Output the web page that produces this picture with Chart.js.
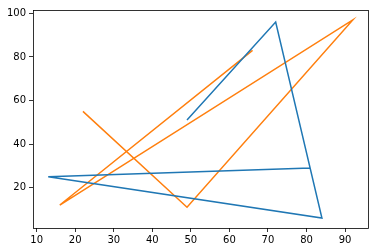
<!DOCTYPE html>
<html>
<head>
<meta charset="utf-8">
<script src="https://cdn.jsdelivr.net/npm/chart.js@4/dist/chart.umd.min.js"></script>
<style>
  html, body { margin: 0; padding: 0; background: #fff; }
  #wrap { width: 378px; height: 252px; }
</style>
</head>
<body>
<div id="wrap"><canvas id="canvass" width="378" height="252"></canvas></div>
<script>
// series (points in drawing order)
var blueX = [49, 72, 84, 13, 81];
var blueY = [51, 96, 6, 25, 29];
var orangeX = [22, 49, 92, 16, 66];
var orangeY = [55, 11, 97, 12, 83];

var xTicks = [10, 20, 30, 40, 50, 60, 70, 80, 90];
var yTicks = [20, 40, 60, 80, 100];

function toPoints(xs, ys) {
    var pts = [];
    for (var i = 0; i < xs.length; i++) {
        pts.push({ x: xs[i], y: ys[i] });
    }
    return pts;
}

// matplotlib style 5% margins
var allX = blueX.concat(orangeX);
var allY = blueY.concat(orangeY);
var xMin = Math.min.apply(null, allX), xMax = Math.max.apply(null, allX);
var yMin = Math.min.apply(null, allY), yMax = Math.max.apply(null, allY);
var xPad = (xMax - xMin) * 0.05, yPad = (yMax - yMin) * 0.05;

// box around the plot area
var frame = {
    id: 'frame',
    afterDatasetsDraw: function (chart) {
        var a = chart.chartArea;
        var ctx = chart.ctx;
        ctx.save();
        ctx.strokeStyle = '#000';
        ctx.lineWidth = 0.8;
        ctx.strokeRect(Math.round(a.left) + 0.5, Math.round(a.top) + 0.5,
            Math.round(a.right - a.left), Math.round(a.bottom - a.top));
        ctx.restore();
    }
};

var data = {
    datasets: [{
        data: toPoints(blueX, blueY),
        borderColor: '#1f77b4',
        backgroundColor: '#1f77b4',
        borderWidth: 1.5,
        showLine: true,
        pointRadius: 0,
        fill: false
    }, {
        data: toPoints(orangeX, orangeY),
        borderColor: '#ff7f0e',
        backgroundColor: '#ff7f0e',
        borderWidth: 1.5,
        showLine: true,
        pointRadius: 0,
        fill: false
    }]
};

Chart.defaults.font.family = '"DejaVu Sans", sans-serif';
Chart.defaults.font.size = 10;
Chart.defaults.color = '#000';

var ctx = document.getElementById('canvass').getContext('2d');
var myChart = new Chart(ctx, {
    type: 'scatter',
    data: data,
    plugins: [frame],
    options: {
        responsive: false,
        animation: false,
        layout: { padding: { left: 0, right: 10, top: 10, bottom: 0 } },
        plugins: {
            legend: { display: false },
            tooltip: { enabled: false }
        },
        scales: {
            x: {
                type: 'linear',
                min: xMin - xPad,
                max: xMax + xPad,
                afterBuildTicks: function (scale) {
                    scale.ticks = xTicks.map(function (v) { return { value: v }; });
                },
                afterFit: function (scale) { scale.height = 24; },
                ticks: { padding: 2, maxRotation: 0, autoSkip: false },
                grid: { drawOnChartArea: false, tickLength: 4, color: '#000', tickWidth: 0.8 },
                border: { display: false }
            },
            y: {
                type: 'linear',
                min: yMin - yPad,
                max: yMax + yPad,
                afterBuildTicks: function (scale) {
                    scale.ticks = yTicks.map(function (v) { return { value: v }; });
                },
                afterFit: function (scale) { scale.width = 33; },
                ticks: { padding: 3, autoSkip: false },
                grid: { drawOnChartArea: false, tickLength: 4, color: '#000', tickWidth: 0.8 },
                border: { display: false }
            }
        }
    }
});
</script>
</body>
</html>
